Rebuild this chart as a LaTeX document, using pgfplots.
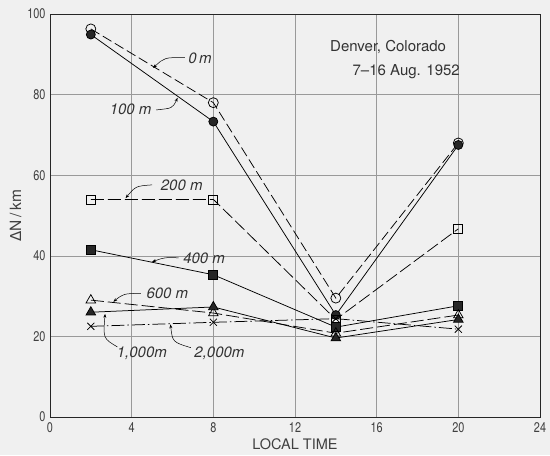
\documentclass[border=0pt]{standalone}
\usepackage{pgfplots}
\pgfplotsset{compat=1.18}
\usepackage{fontspec}
\setmainfont{TeX Gyre Heros}
\newfontfamily\narrowfont[FakeStretch=0.78]{TeX Gyre Heros}
\newfontfamily\dejavu{DejaVu Sans}
\usetikzlibrary{arrows.meta,backgrounds,calc}
\begin{document}
\begin{tikzpicture}
\begin{axis}[
  scale only axis, width=490pt, height=403pt,
  xmin=0, xmax=24, ymin=0, ymax=100,
  xtick={0,4,...,24}, ytick={0,20,...,100},
  grid=major, major grid style={black!40, line width=0.45pt},
  axis line style={black!85, line width=0.9pt},
  tick style={draw=none},
  /pgf/number format/assume math mode=true,
  ticklabel style={font=\narrowfont\fontsize{14}{15}\selectfont, text=black!75},
  xticklabel style={yshift=-2pt},
  yticklabel style={xshift=-1pt},
  xlabel={LOCAL TIME}, ylabel={{\dejavu\fontsize{15}{16}\selectfont Δ}N\,/\,km},
  label style={font=\fontsize{14.5}{15}\selectfont, text=black!75},
  xlabel style={yshift=1pt},
  ylabel style={yshift=-1pt, font=\fontsize{15.5}{16}\selectfont},
  every axis plot/.append style={black, line width=0.75pt},
]
% 0 m
\addplot[dash pattern=on 10pt off 4pt, mark=o, mark size=5pt, mark options={solid, fill=white}] coordinates {(2,96.3) (8,78) (14,29.5) (20,68)};
% 100 m
\addplot[solid, mark=*, mark size=4.5pt, mark options={fill=black!85}] coordinates {(2,94.9) (8,73.3) (14,25.3) (20,67.5)};
% 200 m
\addplot[dash pattern=on 13pt off 4pt, mark=square, mark size=4.5pt, mark options={solid, fill=white}] coordinates {(2,54) (8,54) (14,24.2) (20,46.7)};
% 400 m
\addplot[solid, mark=square*, mark size=4.5pt, mark options={fill=black!85}] coordinates {(2,41.5) (8,35.3) (14,22.3) (20,27.6)};
% 600 m
\addplot[dash pattern=on 13pt off 4pt, mark=triangle, mark size=5.5pt, mark options={solid, fill=white}] coordinates {(2,29) (8,25.8) (14,20.8) (20,25.3)};
% 1000 m
\addplot[solid, mark=triangle*, mark size=5.5pt, mark options={fill=black!85}] coordinates {(2,26) (8,27.3) (14,19.6) (20,24.2)};
% 2000 m
\addplot[dash pattern=on 13pt off 3pt on 1.5pt off 3pt, mark=x, mark size=5pt, mark options={solid}] coordinates {(2,22.5) (8,23.5) (14,24.4) (20,21.8)};

\begin{scope}[every node/.style={font=\itshape\fontsize{15}{16}\selectfont, text=black!80}, line width=0.5pt]
\node at (axis cs:7.35,89.0) {0\,m};
\draw[-{Stealth[length=4pt]}] (axis cs:6.6,89.2) .. controls (axis cs:5.6,89.2) .. (axis cs:5.05,86.6);
\node at (axis cs:3.95,76.3) {100 m};
\draw[-{Stealth[length=4pt]}] (axis cs:5.2,76.2) .. controls (axis cs:6.0,76.6) .. (axis cs:6.25,79.2);
\node at (axis cs:6.45,57.5) {200 m};
\draw[-{Stealth[length=4pt]}] (axis cs:5.0,57.6) .. controls (axis cs:4.2,57.3) .. (axis cs:3.7,54.3);
\node at (axis cs:7.55,39.5) {400 m};
\draw[-{Stealth[length=4pt]}] (axis cs:6.3,39.5) .. controls (axis cs:5.6,39.6) .. (axis cs:5.0,38.5);
\node at (axis cs:5.75,30.6) {600 m};
\draw[-{Stealth[length=4pt]}] (axis cs:4.45,30.7) .. controls (axis cs:3.6,30.6) .. (axis cs:3.1,28.6);
\node at (axis cs:4.5,15.9) {1,000m};
\draw[-{Stealth[length=4pt]}] (axis cs:3.3,17.4) .. controls (axis cs:2.6,19.5) .. (axis cs:2.7,25.6);
\node at (axis cs:8.3,15.9) {2,000m};
\draw[-{Stealth[length=4pt]}] (axis cs:6.9,17.2) .. controls (axis cs:6.0,18.6) .. (axis cs:5.9,23.0);
\end{scope}
\begin{scope}[every node/.style={font=\fontsize{15}{16}\selectfont, text=black!80, anchor=west}]
\node at (axis cs:13.55,91.7) {Denver, Colorado};
\node at (axis cs:14.65,85.8) {7--16 Aug. 1952};
\end{scope}
\end{axis}
\pgfresetboundingbox
\begin{scope}[on background layer]
\fill[black!6] ($(current axis.south west)+(-50pt,-38pt)$) rectangle ($(current axis.north east)+(10pt,14pt)$);
\end{scope}
\useasboundingbox ($(current axis.south west)+(-50pt,-38pt)$) rectangle ($(current axis.north east)+(10pt,14pt)$);
\end{tikzpicture}
\end{document}
